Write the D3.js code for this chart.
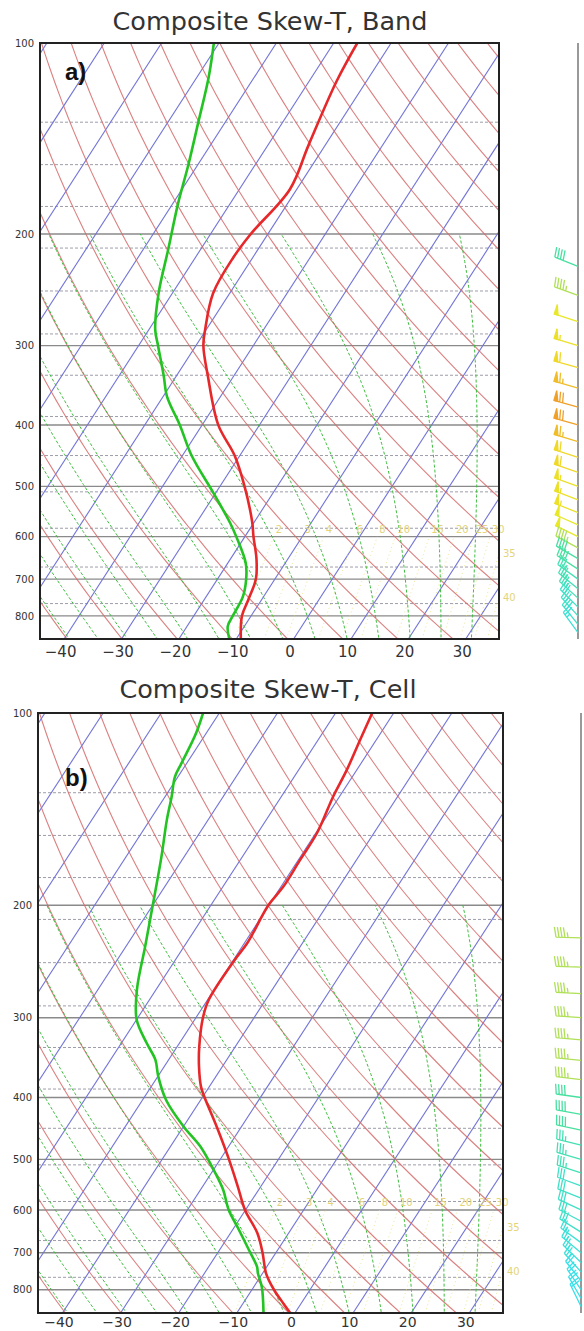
<!DOCTYPE html>
<html>
<head>
<meta charset="utf-8">
<script src="https://cdn.jsdelivr.net/npm/d3@7"></script>
<style>
  body { margin: 0; background: #fff; }
  svg { display: block; font-family: 'DejaVu Sans', sans-serif; }
</style>
</head>
<body>
<script>
// axis ticks and reference levels
const pressTicks = [100, 200, 300, 400, 500, 600, 700, 800];
const tempTicks = [-40, -30, -20, -10, 0, 10, 20, 30];
// 1-km height levels (hPa), drawn dashed
const heightLevels = [765, 670, 582, 510, 447, 388, 334, 287.5, 246, 210.5, 181, 155.5, 133.3];
const mixRatios = [2, 3, 4, 6, 8, 10, 15, 20, 25, 30, 35, 40];

// Band composite: temperature and dewpoint (degC) against pressure (hPa)
const bandTempP = [100, 115, 145, 170, 200, 218, 248, 283, 300, 335, 400, 447, 500, 570, 600, 650, 700, 755, 800, 870];
const bandTemp = [-55.9, -55.2, -52.9, -51.2, -53.0, -53.4, -52.9, -50.2, -48.7, -44.5, -37.2, -30.9, -25.7, -20.3, -18.5, -15.5, -13.3, -12.3, -11.6, -9.2];
const bandDewP = [100, 113, 134, 156, 179, 211, 248, 283, 300, 334, 361, 400, 447, 512, 571, 600, 660, 700, 746, 800, 831, 870];
const bandDew = [-80.9, -78.0, -74.6, -71.6, -69.1, -65.7, -62.4, -58.9, -56.6, -52.3, -49.3, -43.9, -38.4, -30.4, -24.1, -21.5, -16.9, -15.0, -13.6, -13.2, -12.9, -11.2];

// Cell composite
const cellTempP = [100, 110, 123, 135, 154, 170, 187, 200, 229, 244, 281, 300, 333, 358, 385, 400, 444, 500, 552, 600, 652, 700, 754, 800, 840, 870];
const cellTemp = [-53.7, -52.8, -51.7, -51.1, -49.8, -49.7, -49.6, -50.1, -49.5, -49.8, -49.8, -48.8, -46.2, -44.0, -41.4, -39.6, -34.3, -28.5, -23.9, -20.1, -15.4, -12.3, -9.4, -6.2, -3.1, -0.8];
const cellDewP = [100, 108, 120, 126, 135, 147, 168, 199, 232, 271, 302, 329, 349, 371, 404, 444, 477, 519, 558, 600, 639, 695, 736, 754, 792, 870];
const cellDew = [-82.8, -81.7, -80.9, -80.5, -78.9, -77.1, -73.9, -70.1, -66.7, -63.3, -60.0, -55.6, -52.3, -49.9, -45.9, -40.0, -34.9, -30.0, -26.1, -22.9, -19.4, -14.8, -11.7, -10.8, -8.6, -5.4];

// winds (kt, deg) at barb levels
const windLevels = [225, 250, 275, 300, 325, 350, 375, 400, 425, 450, 475, 500, 525, 550, 575, 600, 625, 650, 675, 700, 725, 750, 775, 800, 825, 850];
const bandWindSpd = [40, 45, 50, 55, 60, 65, 70, 70, 65, 60, 60, 55, 55, 55, 50, 50, 45, 40, 40, 35, 35, 35, 30, 30, 30, 25];
const bandWindDir = [292, 290, 288, 287, 286, 286, 286, 286, 287, 288, 289, 290, 291, 292, 294, 296, 298, 300, 303, 306, 309, 312, 315, 318, 321, 324];
const cellWindSpd = [45, 45, 45, 45, 45, 45, 45, 40, 40, 40, 35, 35, 35, 30, 30, 30, 30, 30, 25, 25, 25, 25, 20, 20, 20, 20];
const cellWindDir = [272, 272, 273, 274, 275, 276, 277, 278, 280, 282, 284, 286, 288, 290, 292, 295, 298, 302, 306, 310, 314, 318, 322, 326, 330, 334];

const pBot = 870, pTop = 100;
const tLeft = -44.2, tRight = 35.8;   // temperature range along the bottom edge
const skewTotal = 67;                 // degC of skew from bottom to top

const panels = [
  { title: 'Composite Skew-T, Band', tag: 'a)', titleX: 270, titleY: 30, tagY: 80,
    top: 43, bottom: 639, left: 40, right: 499, windX: 578, tickPad: 7, tickSize: 15,
    tempP: bandTempP, temp: bandTemp, dewP: bandDewP, dew: bandDew,
    spd: bandWindSpd, dir: bandWindDir },
  { title: 'Composite Skew-T, Cell', tag: 'b)', titleX: 268, titleY: 698, tagY: 786,
    top: 713, bottom: 1313, left: 38, right: 503, windX: 581, tickPad: 4, tickSize: 14,
    tempP: cellTempP, temp: cellTemp, dewP: cellDewP, dew: cellDew,
    spd: cellWindSpd, dir: cellWindDir }
];

const svg = d3.select('body').append('svg')
  .attr('width', 584)
  .attr('height', 1331);

// pseudo-adiabatic lapse rate dT/dlnp
function moistRate(T, p) {
  const tc = T - 273.15;
  const es = 6.112 * Math.exp(17.67 * tc / (tc + 243.5));
  const rs = 0.622 * es / (p - es);
  return (287.04 * T + 2.501e6 * rs) /
    (1005.7 + 2.501e6 * 2.501e6 * rs * 0.622 / (287.04 * T * T));
}

function moistAdiabat(tw) {
  const l0 = Math.log(1000), l1 = Math.log(200);
  const n = Math.ceil((l0 - l1) / 0.01);
  const h = -(l0 - l1) / n;
  let T = tw + 273.15, lp = l0;
  const pts = [[tw, 1000]];
  for (let i = 0; i < n; i++) {
    const k1 = moistRate(T, Math.exp(lp));
    const k2 = moistRate(T + 0.5 * h * k1, Math.exp(lp + 0.5 * h));
    const k3 = moistRate(T + 0.5 * h * k2, Math.exp(lp + 0.5 * h));
    const k4 = moistRate(T + h * k3, Math.exp(lp + h));
    T += h * (k1 + 2 * k2 + 2 * k3 + k4) / 6;
    lp += h;
    pts.push([T - 273.15, Math.exp(lp)]);
  }
  return pts;
}

// dewpoint of a mixing ratio line (g/kg) at pressure p
function mixDew(w, p) {
  const e = w * p / (622 + w);
  const a = Math.log(e / 6.112);
  return 243.5 * a / (17.67 - a);
}

const logSteps = (p0, p1, n) => d3.range(n + 1).map(i => p0 * Math.pow(p1 / p0, i / n));

const windColor = d3.scaleLinear()
  .domain([20, 30, 40, 45, 50, 60, 70])
  .range(['#38e0e8', '#40e0c8', '#48e0a0', '#b0e058', '#e8e828', '#f0d828', '#f0a028']);

panels.forEach((cfg, k) => {
  const y = d3.scaleLog().domain([pTop, pBot]).range([cfg.top, cfg.bottom]);
  const xs = d3.scaleLinear().domain([tLeft, tRight]).range([cfg.left, cfg.right]);
  const skew = p => skewTotal * Math.log(pBot / p) / Math.log(pBot / pTop);
  const sx = (t, p) => xs(t + skew(p));
  const line = d3.line().x(d => sx(d[0], d[1])).y(d => y(d[1]));

  const g = svg.append('g');
  const clipId = 'clip' + k;
  g.append('clipPath').attr('id', clipId)
    .append('rect')
    .attr('x', cfg.left).attr('y', cfg.top)
    .attr('width', cfg.right - cfg.left).attr('height', cfg.bottom - cfg.top);

  const plot = g.append('g').attr('clip-path', `url(#${clipId})`);

  // dashed height levels
  plot.append('g').selectAll('line').data(heightLevels).join('line')
    .attr('x1', cfg.left).attr('x2', cfg.right)
    .attr('y1', d => y(d)).attr('y2', d => y(d))
    .attr('stroke', '#9d9daa').attr('stroke-width', 1)
    .attr('stroke-dasharray', '3,2');

  // isobars
  plot.append('g').selectAll('line').data(pressTicks.slice(1)).join('line')
    .attr('x1', cfg.left).attr('x2', cfg.right)
    .attr('y1', d => y(d)).attr('y2', d => y(d))
    .attr('stroke', '#8a8a8a').attr('stroke-width', 1.4);

  // isotherms
  plot.append('g').selectAll('path').data(d3.range(-160, 50, 10)).join('path')
    .attr('d', t => line([[t, pBot], [t, pTop]]))
    .attr('fill', 'none').attr('stroke', '#7174d6').attr('stroke-width', 1.1);

  // dry adiabats, every 10 degC of potential temperature
  const ps = logSteps(pBot, pTop, 60);
  plot.append('g').selectAll('path').data(d3.range(-80, 250, 10)).join('path')
    .attr('d', th => line(ps.map(p => [(th + 273.15) * Math.pow(p / 1000, 0.2857) - 273.15, p])))
    .attr('fill', 'none').attr('stroke', '#d56a6a').attr('stroke-opacity', 0.85)
    .attr('stroke-width', 1.1);

  // saturated adiabats up to 200 hPa
  plot.append('g').selectAll('path').data(d3.range(-60, 40, 5)).join('path')
    .attr('d', tw => line(moistAdiabat(tw)))
    .attr('fill', 'none').attr('stroke', '#3cbc3c').attr('stroke-width', 1)
    .attr('stroke-dasharray', '3,2');

  // mixing ratio lines, faint
  const mps = logSteps(pBot, 600, 8);
  plot.append('g').selectAll('path').data(mixRatios).join('path')
    .attr('d', w => line(mps.map(p => [mixDew(w, p), p])))
    .attr('fill', 'none').attr('stroke', '#e4dc6a').attr('stroke-opacity', 0.7)
    .attr('stroke-width', 1).attr('stroke-dasharray', '1,3');

  // mixing ratio labels at the top end of each line or where it leaves the frame
  const mixLabels = mixRatios.map(w => {
    const xTop = sx(mixDew(w, 600), 600);
    if (xTop <= cfg.right) return { w, x: xTop + 2, y: y(600) - 4 };
    let lo = 600, hi = pBot;
    for (let i = 0; i < 30; i++) {
      const mid = (lo + hi) / 2;
      if (sx(mixDew(w, mid), mid) > cfg.right) lo = mid; else hi = mid;
    }
    return { w, x: cfg.right + 4, y: y(hi) + 4 };
  });
  g.append('g').selectAll('text').data(mixLabels).join('text')
    .attr('x', d => d.x).attr('y', d => d.y)
    .attr('font-size', 10).attr('fill', '#e3d47a')
    .text(d => d.w);

  // profiles
  plot.append('path')
    .datum(cfg.dewP.map((p, i) => [cfg.dew[i], p]))
    .attr('d', line.curve(d3.curveCatmullRom))
    .attr('fill', 'none').attr('stroke', '#22c322').attr('stroke-width', 2.6);
  plot.append('path')
    .datum(cfg.tempP.map((p, i) => [cfg.temp[i], p]))
    .attr('d', line.curve(d3.curveCatmullRom))
    .attr('fill', 'none').attr('stroke', '#e6282b').attr('stroke-width', 2.6);

  // frame
  g.append('rect')
    .attr('x', cfg.left).attr('y', cfg.top)
    .attr('width', cfg.right - cfg.left).attr('height', cfg.bottom - cfg.top)
    .attr('fill', 'none').attr('stroke', '#222').attr('stroke-width', 2);

  // axes
  const yAxis = g.append('g')
    .attr('transform', `translate(${cfg.left},0)`)
    .call(d3.axisLeft(y).tickValues(pressTicks).tickFormat(d3.format('d')).tickSize(0).tickPadding(6));
  yAxis.select('.domain').remove();
  yAxis.selectAll('text').attr('font-size', 10).attr('fill', '#333')
    .attr('font-family', "'DejaVu Sans', sans-serif");

  const xLab = xs.copy().range([cfg.left - 4, cfg.right - 4]);
  const xAxis = g.append('g')
    .attr('transform', `translate(0,${cfg.bottom})`)
    .call(d3.axisBottom(xLab).tickValues(tempTicks).tickFormat(d3.format('d')).tickSize(0).tickPadding(cfg.tickPad));
  xAxis.select('.domain').remove();
  xAxis.selectAll('text').attr('font-size', cfg.tickSize).attr('fill', '#333')
    .attr('font-family', "'DejaVu Sans', sans-serif");

  // title and panel tag
  g.append('text')
    .attr('x', cfg.titleX).attr('y', cfg.titleY)
    .attr('text-anchor', 'middle')
    .attr('font-size', 25.5).attr('fill', '#333')
    .text(cfg.title);
  g.append('text')
    .attr('x', 65).attr('y', cfg.tagY)
    .attr('font-family', "'Liberation Sans', Arial, sans-serif")
    .attr('font-weight', 'bold').attr('font-size', 24).attr('fill', '#111')
    .text(cfg.tag);

  // wind barbs
  g.append('line')
    .attr('x1', cfg.windX).attr('x2', cfg.windX)
    .attr('y1', cfg.top).attr('y2', cfg.bottom)
    .attr('stroke', '#777').attr('stroke-width', 1.5);

  const barbs = g.append('g').attr('fill', 'none').attr('stroke-width', 1.3);
  windLevels.forEach((p, i) => {
    const spd = cfg.spd[i], rad = cfg.dir[i] * Math.PI / 180;
    const ux = Math.sin(rad), uy = -Math.cos(rad);   // toward the wind source
    const px = -uy, py = ux;                          // feather side
    const x0 = cfg.windX, y0 = y(p);
    const L = 25, F = 10, gap = 3;
    const tx = x0 + ux * L, ty = y0 + uy * L;
    const col = windColor(spd);
    let d = `M${x0},${y0}L${tx},${ty}`;
    let rem = Math.round(spd / 5) * 5, off = 0;
    let flags = '';
    while (rem >= 50) {
      const ax = tx - ux * off, ay = ty - uy * off;
      const bx = tx - ux * (off + 4), by = ty - uy * (off + 4);
      flags += `M${ax},${ay}L${ax + px * F},${ay + py * F}L${bx},${by}Z`;
      off += 6; rem -= 50;
    }
    while (rem >= 10) {
      const ax = tx - ux * off, ay = ty - uy * off;
      d += `M${ax},${ay}L${ax + px * F + ux * 2},${ay + py * F + uy * 2}`;
      off += gap; rem -= 10;
    }
    if (rem >= 5) {
      const ax = tx - ux * off, ay = ty - uy * off;
      d += `M${ax},${ay}L${ax + px * F / 2 + ux},${ay + py * F / 2 + uy}`;
    }
    barbs.append('path').attr('d', d).attr('stroke', col);
    if (flags) barbs.append('path').attr('d', flags).attr('fill', col).attr('stroke', col);
  });
});
</script>
</body>
</html>
